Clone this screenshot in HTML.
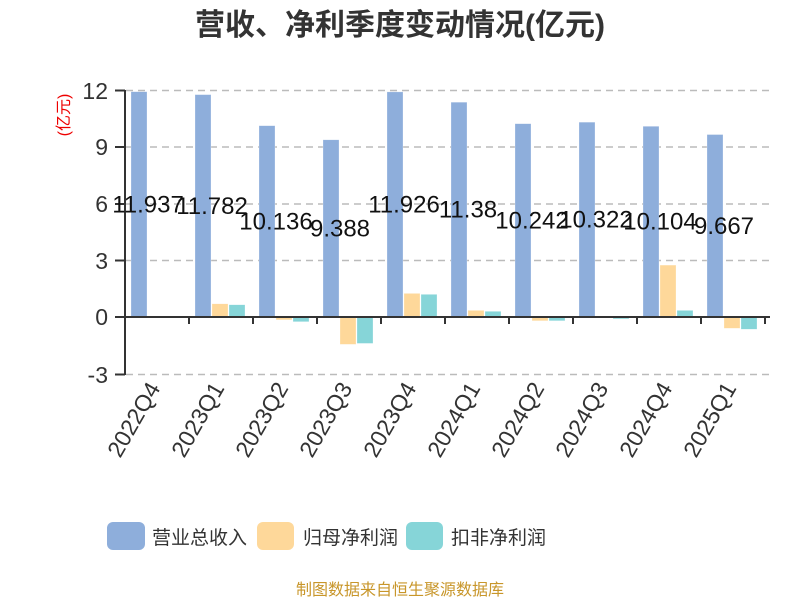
<!DOCTYPE html>
<html><head><meta charset="utf-8"><style>
body{margin:0;background:#fff;}
svg{display:block;font-family:"Liberation Sans","Noto Sans CJK SC",sans-serif;}
</style></head><body>
<svg width="800" height="600" xmlns="http://www.w3.org/2000/svg">
<text x="400" y="35" text-anchor="middle" font-size="30" font-weight="bold" fill="#333">营收、净利季度变动情况(亿元)</text>
<text transform="translate(69,115) rotate(-90)" text-anchor="middle" font-size="16" fill="#e00">(亿元)</text>
<g stroke="#bbb" stroke-width="1.5" stroke-dasharray="7,5">
<line x1="126" x2="770" y1="90.5" y2="90.5"/>
<line x1="126" x2="770" y1="147" y2="147"/>
<line x1="126" x2="770" y1="204" y2="204"/>
<line x1="126" x2="770" y1="260.5" y2="260.5"/>
<line x1="126" x2="770" y1="374.5" y2="374.5"/>
</g>
<g font-size="23" fill="#333" text-anchor="end">
<text x="108" y="99">12</text><text x="108" y="155">9</text><text x="108" y="212">6</text><text x="108" y="269">3</text><text x="108" y="325">0</text><text x="108" y="383">-3</text>
</g>
<g id="bars"></g>
<g stroke="#333" stroke-width="2">
<line x1="125" y1="90" x2="125" y2="375"/>
<line x1="115" y1="90.5" x2="125" y2="90.5"/><line x1="115" y1="147" x2="125" y2="147"/><line x1="115" y1="204" x2="125" y2="204"/><line x1="115" y1="260.5" x2="125" y2="260.5"/><line x1="115" y1="317" x2="125" y2="317"/><line x1="115" y1="374.5" x2="125" y2="374.5"/>
<line x1="125" y1="317" x2="770" y1="317" y2="317"/>
</g>
<g id="ticks" stroke="#333" stroke-width="2"></g>
<g id="lbl" font-size="24" fill="#111" text-anchor="middle"></g>
<g id="xl" font-size="23" fill="#333" text-anchor="end"></g>
<rect x="107" y="522" width="38" height="28" rx="6" fill="#8eaedb"/>
<text x="152" y="544" font-size="19" fill="#333">营业总收入</text>
<rect x="257" y="522" width="37" height="28" rx="6" fill="#fed89a"/>
<text x="303" y="544" font-size="19" fill="#333">归母净利润</text>
<rect x="406" y="522" width="37" height="28" rx="6" fill="#86d5d8"/>
<text x="451" y="544" font-size="19" fill="#333">扣非净利润</text>
<text x="400" y="595" text-anchor="middle" font-size="16" fill="#c8962a">制图数据来自恒生聚源数据库</text>
<script>
var cats=["2022Q4","2023Q1","2023Q2","2023Q3","2023Q4","2024Q1","2024Q2","2024Q3","2024Q4","2025Q1"];
var rev=[11.937,11.782,10.136,9.388,11.926,11.38,10.242,10.322,10.104,9.667];
var net=[0.05,0.7,-0.15,-1.45,1.25,0.35,-0.2,0.02,2.75,-0.6];
var ded=[0.02,0.65,-0.25,-1.4,1.2,0.3,-0.2,-0.1,0.35,-0.65];
var ns="http://www.w3.org/2000/svg",z=317,k=18.875;
function el(p,t,a,txt){var e=document.createElementNS(ns,t);for(var q in a)e.setAttribute(q,a[q]);if(txt)e.textContent=txt;document.getElementById(p).appendChild(e);}
function bar(x,v,c){var y=v>=0?z-v*k:z,h=Math.abs(v)*k;el("bars","rect",{x:x,y:y,width:16,height:Math.max(h,0.5),fill:c,stroke:"#fff","stroke-opacity":0.5,"stroke-width":0.5});}
for(var i=0;i<10;i++){var s=125+64*i;
bar(s+6,rev[i],"#8eaedb");bar(s+23,net[i],"#fed89a");bar(s+40,ded[i],"#86d5d8");
el("ticks","line",{x1:s+64,x2:s+64,y1:317,y2:324});
var my=(z-rev[i]*k+z)/2;
el("lbl","text",{x:s+23,y:my+8},String(rev[i]));
el("xl","text",{transform:"translate("+(s+36)+",388) rotate(-60)"},cats[i]);}
</script>
</svg>
</body></html>
